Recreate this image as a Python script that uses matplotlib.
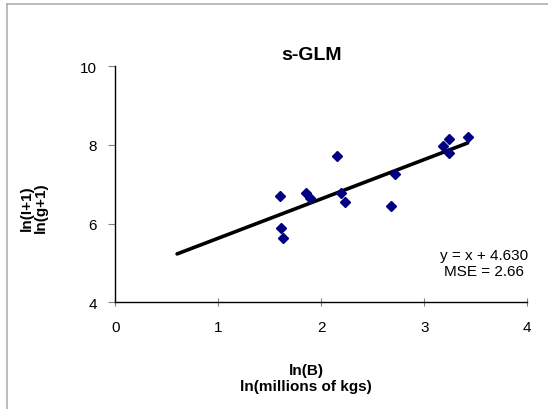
import matplotlib
matplotlib.use("Agg")
import matplotlib.pyplot as plt
from matplotlib.lines import Line2D
import numpy as np

plt.rcParams['font.family'] = ['Liberation Sans', 'DejaVu Sans']

# Observations: ln(B) vs ln(g+1)
ln_b = [1.60, 1.61, 1.63, 1.85, 1.89, 2.15, 2.19, 2.23, 2.68, 2.72, 3.18, 3.24, 3.24, 3.42]
ln_g = [6.71, 5.88, 5.64, 6.78, 6.65, 7.73, 6.77, 6.54, 6.46, 7.26, 7.97, 8.16, 7.80, 8.20]

# Fitted line y = x + intercept
slope = 1.0
intercept = 4.630
mse = 2.66
fit_x = [0.60, 3.42]

x_ticks = [0, 1, 2, 3, 4]
y_ticks = [4, 6, 8, 10]

W, H = 548, 410
fig = plt.figure(figsize=(W / 100, H / 100), dpi=100)
ax = fig.add_axes([115.3 / W, 1 - 303.3 / H, (527.3 - 115.3) / W, (303.3 - 67.3) / H])

ax.plot(ln_b, ln_g, linestyle='none', marker='D', markersize=5.6,
        color='#000080', markeredgecolor='#000080', zorder=3)
fx = np.array(fit_x)
ax.plot(fx, slope * fx + intercept, color='black', linewidth=2.6,
        solid_capstyle='round', zorder=2)

ax.set_xlim(0, 4)
ax.set_ylim(4, 10)
ax.set_xticks(x_ticks)
ax.set_yticks(y_ticks)
ax.set_xticklabels([str(t) for t in x_ticks])
ax.set_yticklabels([str(t) for t in y_ticks])
for s in ('top', 'right'):
    ax.spines[s].set_visible(False)
for s in ('left', 'bottom'):
    ax.spines[s].set_linewidth(1.0)
    ax.spines[s].set_color('black')
ax.tick_params(axis='y', direction='out', length=5, width=0.8, color='#808080',
               labelsize=11, pad=8)
ax.tick_params(axis='x', direction='inout', length=6, width=0.8, color='#808080',
               labelsize=11, pad=10)

fig.text(312 / W, 1 - 56 / H, 's-GLM', ha='center', va='center',
         fontsize=14, fontweight='bold')

fig.text(484 / W, 1 - 264 / H, f'y = x + {intercept:.3f}\nMSE = {mse:.2f}',
         ha='center', va='center', fontsize=11, linespacing=1.1)

fig.text(306 / W, 1 - 379 / H, 'ln(B)\nln(millions of kgs)', ha='center', va='center',
         fontsize=11, fontweight='bold', linespacing=1.1)
fig.text(34 / W, 1 - 208 / H, 'ln(I+1)\nln(g+1)', ha='center', va='center',
         rotation=90, fontsize=11, fontweight='bold', linespacing=1.0)

# Chart-area border (top and left edges)
fig.add_artist(Line2D([7 / W, 1], [1 - 5 / H, 1 - 5 / H], color='#b0b0b0', linewidth=1.2))
fig.add_artist(Line2D([7 / W, 7 / W], [0, 1 - 5 / H], color='#b0b0b0', linewidth=1.2))

fig.savefig('out.png', dpi=100)
